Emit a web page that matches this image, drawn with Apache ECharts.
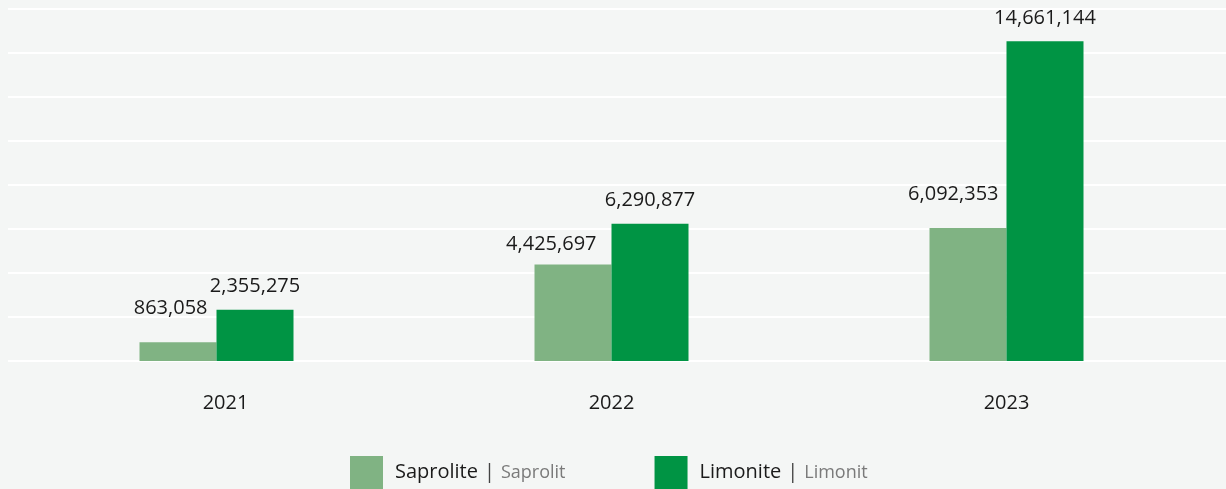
<!DOCTYPE html>
<html>
<head>
<meta charset="utf-8">
<script src="https://cdn.jsdelivr.net/npm/echarts@6/dist/echarts.min.js"></script>
<style>
  html, body { margin: 0; padding: 0; background: #f4f6f5; }
  #chart { width: 1226px; height: 489px; }
</style>
</head>
<body>
<div id="chart"></div>
<script>
// data
const years = ['2021', '2022', '2023'];
const saprolite = [863058, 4425697, 6092353];
const limonite = [2355275, 6290877, 14661144];
const seriesNames = ['Saprolite', 'Limonite'];
const seriesNamesId = ['Saprolit', 'Limonit'];

const chart = echarts.init(document.getElementById('chart'));

const fmt = (v) => v.toLocaleString('en-US');
// saprolite labels sit up-left of the bar, nudged per bar
const saproNudge = [[-9, -23], [-15, -9], [-8, -23]];

const option = {
  backgroundColor: '#f4f6f5',
  animation: false,
  textStyle: { fontFamily: 'Open Sans' },
  grid: [
    // gridlines, full width
    { left: 8, right: 0, top: 9, bottom: 128 },
    // bars
    { left: 19, right: 22, top: 12, bottom: 128 },
  ],
  xAxis: [
    { gridIndex: 0, type: 'value', show: false, min: 0, max: 1 },
    {
      gridIndex: 1,
      type: 'category',
      data: years,
      axisLine: { show: false },
      axisTick: { show: false },
      axisLabel: {
        margin: 32,
        fontSize: 20,
        color: '#1a1a1a',
        formatter: (v, i) => (i === 0 ? '{s|' + v + '}' : v),
        rich: { s: { fontSize: 20, color: '#1a1a1a', padding: [0, 0, 0, 18] } },
      },
    },
  ],
  yAxis: [
    {
      gridIndex: 0,
      type: 'value',
      min: 0,
      max: 16000000,
      interval: 2000000,
      axisLabel: { show: false },
      axisLine: { show: false },
      axisTick: { show: false },
      splitLine: { lineStyle: { color: '#ffffff', width: 2 } },
    },
    {
      gridIndex: 1,
      type: 'value',
      min: 0,
      max: 16000000,
      interval: 2000000,
      show: false,
      splitLine: { show: false },
    },
  ],
  legend: {
    left: 345,
    top: 451,
    itemWidth: 33,
    itemHeight: 33,
    itemGap: 89,
    icon: 'rect',
    data: seriesNames,
    formatter: (name) => {
      const i = seriesNames.indexOf(name);
      return '{a|' + name + '}{b||}{c|' + seriesNamesId[i] + '}';
    },
    textStyle: {
      rich: {
        a: { fontSize: 20, color: '#1a1a1a', padding: [0, 0, 0, 7] },
        b: { fontSize: 20, color: '#444', padding: [0, 6, 0, 6] },
        c: { fontSize: 18, color: '#7a7a7a' },
      },
    },
  },
  series: [
    {
      name: seriesNames[0],
      type: 'bar',
      xAxisIndex: 1,
      yAxisIndex: 1,
      barWidth: 77,
      barGap: '0%',
      itemStyle: { color: '#80b383' },
      data: saprolite.map((v, i) => ({
        value: v,
        label: { offset: saproNudge[i] },
      })),
      label: {
        show: true,
        position: ['100%', 0],
        align: 'right',
        verticalAlign: 'bottom',
        fontSize: 20,
        lineHeight: 22,
        color: '#1a1a1a',
        formatter: (p) => fmt(p.value),
      },
    },
    {
      name: seriesNames[1],
      type: 'bar',
      xAxisIndex: 1,
      yAxisIndex: 1,
      barWidth: 77,
      itemStyle: { color: '#009444' },
      data: limonite,
      label: {
        show: true,
        position: 'top',
        distance: 12,
        fontSize: 20,
        lineHeight: 22,
        color: '#1a1a1a',
        formatter: (p) => fmt(p.value),
      },
    },
  ],
};

chart.setOption(option);
</script>
</body>
</html>
